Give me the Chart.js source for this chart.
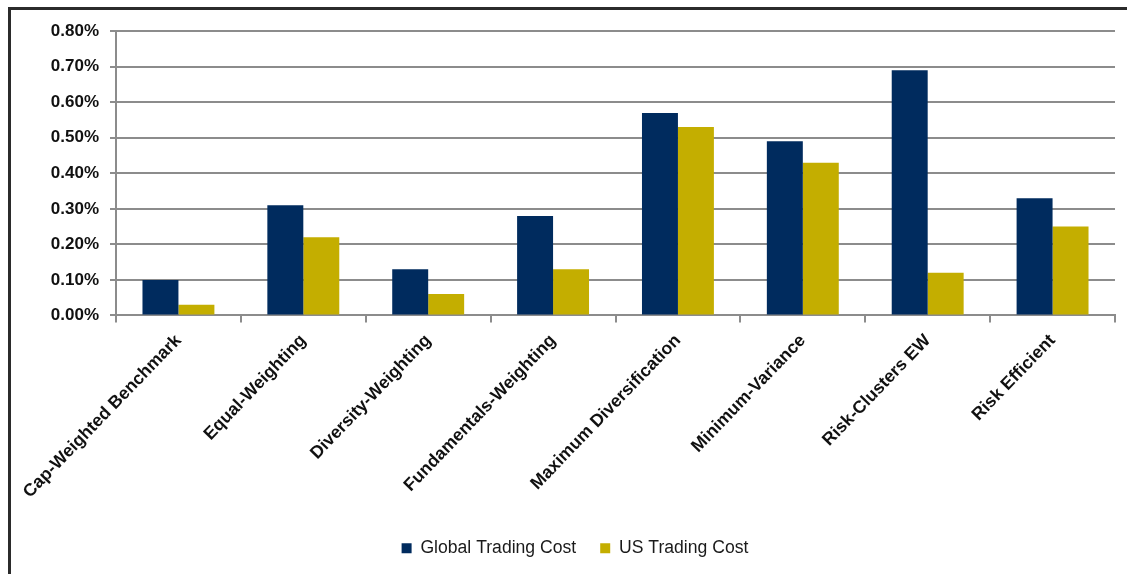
<!DOCTYPE html>
<html>
<head>
<meta charset="utf-8">
<script src="https://cdn.jsdelivr.net/npm/chart.js@4.4.0/dist/chart.umd.min.js"></script>
<style>
	body { margin: 0; background: #fff; overflow: hidden; }
	.marco { position: absolute; left: 8px; top: 7px; width: 1200px; height: 700px; border-left: 3px solid #2b2b2b; border-top: 3px solid #2b2b2b; }
	.caja { position: absolute; left: 11px; top: 10px; width: 1116px; height: 564px; }
</style>
</head>
<body>
<div class="marco"></div>
<div class="caja"><canvas id="grafico"></canvas></div>
<script>
const categorias = [
	'Cap-Weighted Benchmark',
	'Equal-Weighting',
	'Diversity-Weighting',
	'Fundamentals-Weighting',
	'Maximum Diversification',
	'Minimum-Variance',
	'Risk-Clusters EW',
	'Risk Efficient'
];
const globalCost = [0.10, 0.31, 0.13, 0.28, 0.57, 0.49, 0.69, 0.33];
const usCost = [0.03, 0.22, 0.06, 0.13, 0.53, 0.43, 0.12, 0.25];

const gris = '#8c8c8c';

const data = {
	labels: categorias,
	datasets: [{
		label: 'Global Trading Cost',
		data: globalCost,
		backgroundColor: '#002b5e',
		borderWidth: 0,
		barPercentage: 1,
		categoryPercentage: 0.576
	},{
		label: 'US Trading Cost',
		data: usCost,
		backgroundColor: '#c4ae00',
		borderWidth: 0,
		barPercentage: 1,
		categoryPercentage: 0.576
	}]
};

const config = {
	type: 'bar',
	data: data,
	options: {
		responsive: true,
		maintainAspectRatio: false,
		animation: false,
		layout: {
			padding: { top: 21, right: 12, bottom: 7, left: 24 }
		},
		plugins: {
			tooltip: { enabled: false },
			legend: {
				position: 'bottom',
				labels: {
					boxWidth: 10,
					boxHeight: 10,
					padding: 24,
					color: '#1a1a1a',
					font: { family: 'Arial, "Liberation Sans"', size: 17.6 }
				}
			}
		},
		scales: {
			x: {
				afterFit: function(scale) { scale.height = 200; },
				border: { color: gris, width: 2 },
				grid: {
					offset: true,
					drawOnChartArea: false,
					drawTicks: true,
					tickLength: 7,
					color: gris,
					lineWidth: 2
				},
				ticks: {
					autoSkip: false,
					maxRotation: 46,
					minRotation: 46,
					padding: 8,
					color: '#111',
					font: { family: 'Arial, "Liberation Sans"', size: 17.6, weight: 'bold' }
				}
			},
			y: {
				min: 0,
				max: 0.8,
				afterFit: function(scale) { scale.width = 81; },
				border: { color: gris, width: 2 },
				grid: {
					color: gris,
					lineWidth: 2,
					drawTicks: true,
					tickLength: 6
				},
				ticks: {
					stepSize: 0.1,
					padding: 11,
					color: '#111',
					font: { family: 'Arial, "Liberation Sans"', size: 17, weight: 'bold' },
					callback: function(valor) { return valor.toFixed(2) + '%'; }
				}
			}
		}
	}
};

const grafico = new Chart(document.getElementById('grafico'), config);
</script>
</body>
</html>
